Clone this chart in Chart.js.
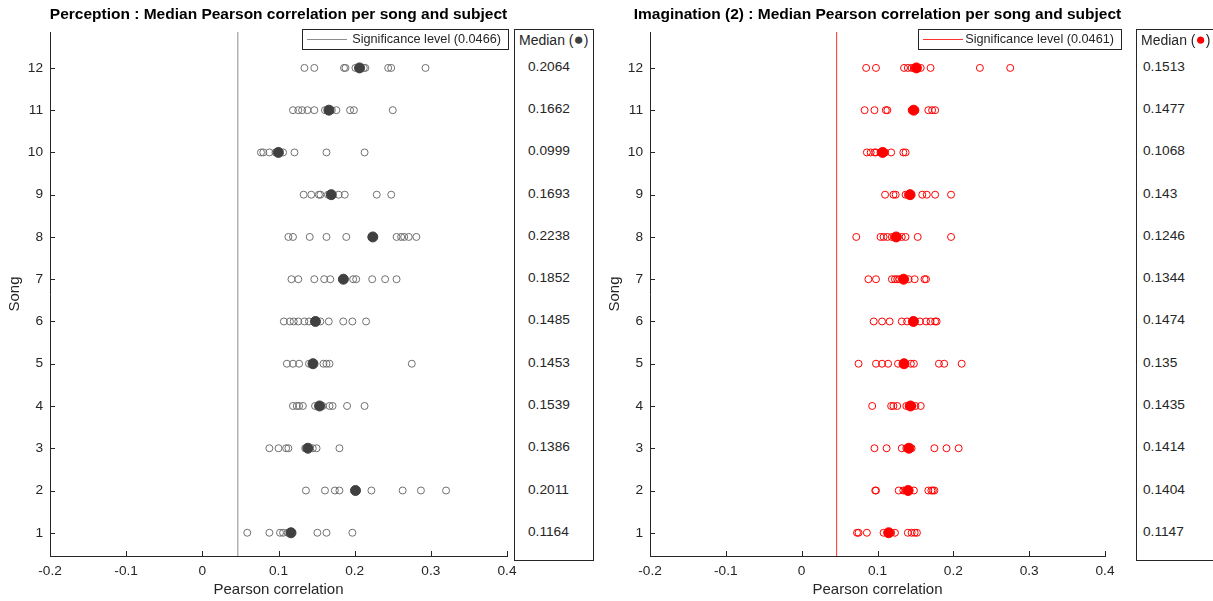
<!DOCTYPE html>
<html>
<head>
<meta charset="utf-8">
<script src="https://cdn.jsdelivr.net/npm/chart.js@4.4.1/dist/chart.umd.min.js"></script>
<style>
  body { margin: 0; background: #fff; width: 1213px; height: 601px; overflow: hidden; position: relative;
         font-family: 'Liberation Sans', Arial, sans-serif; color: #262626; }
  canvas { position: absolute; top: 0; }
  .title { position: absolute; top: 5px; font-weight: bold; font-size: 15.5px; white-space: nowrap;
           transform: translateX(-50%); color: #000; }
  .legend { position: absolute; top: 29px; height: 19px; border: 1px solid #262626; background: #fff; font-size: 12.7px; }
  .legend .sample { position: absolute; left: 4px; top: 9px; width: 40px; height: 0; border-top: 1px solid; }
  .legend .txt { position: absolute; right: 7px; top: 2px; white-space: nowrap; }
  .medbox { position: absolute; top: 29px; height: 530px; border: 1px solid #262626; background: #fff; font-size: 13.7px; }
  .medbox .head { position: absolute; left: 4px; top: 2px; white-space: nowrap; font-size: 14px; }
  .medbox .head span { font-size: 17px; line-height: 14px; }
  .medbox .val { position: absolute; white-space: nowrap; transform: translateY(-50%); }
</style>
</head>
<body>
<script>
// Songs and axis ticks
const songs = [1, 2, 3, 4, 5, 6, 7, 8, 9, 10, 11, 12];
const xTicks = [-0.2, -0.1, 0, 0.1, 0.2, 0.3, 0.4];
const yMin = 0.45;
const yMax = 12.85;

// Perception: correlation per subject, one list per song (song 1 first)
const perceptionValues = [
    [0.059, 0.088, 0.102, 0.106, 0.112, 0.151, 0.163, 0.197],
    [0.136, 0.161, 0.174, 0.180, 0.222, 0.263, 0.287, 0.320],
    [0.088, 0.100, 0.110, 0.113, 0.135, 0.145, 0.150, 0.180],
    [0.119, 0.124, 0.127, 0.132, 0.148, 0.158, 0.167, 0.171, 0.190, 0.213],
    [0.111, 0.119, 0.127, 0.140, 0.159, 0.163, 0.167, 0.275],
    [0.107, 0.115, 0.120, 0.126, 0.134, 0.140, 0.155, 0.166, 0.185, 0.197, 0.215],
    [0.117, 0.126, 0.147, 0.160, 0.168, 0.198, 0.202, 0.223, 0.240, 0.255],
    [0.113, 0.119, 0.141, 0.163, 0.189, 0.255, 0.261, 0.265, 0.271, 0.281],
    [0.133, 0.143, 0.153, 0.155, 0.165, 0.179, 0.187, 0.229, 0.248],
    [0.077, 0.080, 0.088, 0.096, 0.106, 0.121, 0.163, 0.213],
    [0.119, 0.126, 0.131, 0.138, 0.147, 0.161, 0.170, 0.176, 0.194, 0.199, 0.250],
    [0.134, 0.147, 0.186, 0.188, 0.201, 0.212, 0.214, 0.244, 0.248, 0.293]
];
const perceptionMedians = [0.1164, 0.2011, 0.1386, 0.1539, 0.1453, 0.1485, 0.1852, 0.2238, 0.1693, 0.0999, 0.1662, 0.2064];
const perceptionSignificance = 0.0466;

// Imagination (2)
const imaginationValues = [
    [0.073, 0.075, 0.086, 0.108, 0.118, 0.123, 0.140, 0.145, 0.149, 0.152],
    [0.097, 0.098, 0.128, 0.134, 0.137, 0.148, 0.167, 0.171, 0.173, 0.175],
    [0.096, 0.112, 0.132, 0.138, 0.145, 0.175, 0.191, 0.207],
    [0.093, 0.118, 0.121, 0.126, 0.138, 0.141, 0.146, 0.150, 0.157],
    [0.075, 0.098, 0.106, 0.114, 0.127, 0.144, 0.148, 0.181, 0.188, 0.211],
    [0.095, 0.106, 0.116, 0.132, 0.139, 0.156, 0.164, 0.170, 0.176, 0.178],
    [0.088, 0.098, 0.119, 0.123, 0.126, 0.129, 0.141, 0.149, 0.162, 0.164],
    [0.072, 0.104, 0.108, 0.113, 0.119, 0.127, 0.132, 0.137, 0.153, 0.197],
    [0.110, 0.121, 0.124, 0.137, 0.140, 0.159, 0.165, 0.176, 0.197],
    [0.086, 0.091, 0.096, 0.098, 0.104, 0.110, 0.118, 0.134, 0.137],
    [0.083, 0.096, 0.111, 0.113, 0.145, 0.150, 0.167, 0.172, 0.176],
    [0.085, 0.098, 0.135, 0.140, 0.145, 0.148, 0.157, 0.170, 0.235, 0.275]
];
const imaginationMedians = [0.1147, 0.1404, 0.1414, 0.1435, 0.135, 0.1474, 0.1344, 0.1246, 0.143, 0.1068, 0.1477, 0.1513];
const imaginationSignificance = 0.0461;

Chart.defaults.font.family = "'Liberation Sans', Arial, sans-serif";
Chart.defaults.color = '#262626';

// MATLAB style ticks pointing into the axes
const innerTicks = {
    id: 'innerTicks',
    afterDraw(chart) {
        const { ctx, chartArea: a, scales: { x, y } } = chart;
        ctx.save();
        ctx.strokeStyle = '#262626';
        ctx.lineWidth = 1;
        ctx.beginPath();
        xTicks.forEach(v => {
            const px = Math.round(x.getPixelForValue(v)) + 0.5;
            ctx.moveTo(px, a.bottom);
            ctx.lineTo(px, a.bottom - 5);
        });
        songs.forEach(v => {
            const py = Math.round(y.getPixelForValue(v)) + 0.5;
            ctx.moveTo(a.left, py);
            ctx.lineTo(a.left + 5, py);
        });
        ctx.stroke();
        ctx.restore();
    }
};

function addDiv(cls, parent, css, html) {
    const d = document.createElement('div');
    d.className = cls;
    Object.assign(d.style, css);
    if (html !== undefined) d.innerHTML = html;
    parent.appendChild(d);
    return d;
}

function makePanel(p) {
    const canvas = document.createElement('canvas');
    canvas.width = p.width;
    canvas.height = 601;
    canvas.style.left = p.left + 'px';
    document.body.appendChild(canvas);

    const points = [];
    p.values.forEach((row, i) => row.forEach(v => points.push({ x: v, y: songs[i] })));
    const medPoints = p.medians.map((m, i) => ({ x: m, y: songs[i] }));

    const chart = new Chart(canvas, {
        type: 'scatter',
        data: {
            datasets: [
                {
                    label: 'Median',
                    data: medPoints,
                    pointRadius: 5,
                    backgroundColor: p.fillColor,
                    borderColor: p.fillColor,
                    borderWidth: 1,
                    order: 0
                },
                {
                    label: 'Subjects',
                    data: points,
                    pointRadius: 3.5,
                    backgroundColor: 'rgba(0,0,0,0)',
                    borderColor: p.emptyColor,
                    borderWidth: 1,
                    order: 1
                },
                {
                    type: 'line',
                    label: 'Significance level',
                    data: [{ x: p.sig, y: yMin }, { x: p.sig, y: yMax }],
                    borderColor: p.lineColor,
                    borderWidth: 1,
                    pointRadius: 0,
                    order: 2
                }
            ]
        },
        options: {
            responsive: false,
            animation: false,
            events: [],
            layout: { padding: { left: 0, right: 23, top: 32, bottom: 0 } },
            plugins: {
                legend: { display: false },
                tooltip: { enabled: false }
            },
            scales: {
                x: {
                    type: 'linear',
                    min: -0.2,
                    max: 0.4,
                    afterBuildTicks: s => { s.ticks = xTicks.map(v => ({ value: v })); },
                    afterFit: s => { s.height = 45; },
                    grid: { display: false, drawTicks: false },
                    border: { display: true, color: '#262626', width: 1 },
                    ticks: {
                        font: { size: 13.7 },
                        padding: 7,
                        maxRotation: 0,
                        autoSkip: false,
                        callback: v => String(Math.round(v * 10) / 10)
                    },
                    title: {
                        display: true,
                        text: 'Pearson correlation',
                        font: { size: 15 },
                        padding: { top: 0, bottom: 2 }
                    }
                },
                y: {
                    type: 'linear',
                    min: yMin,
                    max: yMax,
                    afterBuildTicks: s => { s.ticks = songs.map(v => ({ value: v })); },
                    afterFit: s => { s.width = p.yWidth; },
                    grid: { display: false, drawTicks: false },
                    border: { display: true, color: '#262626', width: 1 },
                    ticks: {
                        font: { size: 13.7 },
                        padding: 7,
                        autoSkip: false,
                        callback: v => String(v)
                    },
                    title: {
                        display: true,
                        text: 'Song',
                        font: { size: 15 },
                        padding: { top: 6, bottom: 0 }
                    }
                }
            }
        },
        plugins: [innerTicks]
    });

    const a = chart.chartArea;
    addDiv('title', document.body, { left: (p.left + (a.left + a.right) / 2) + 'px' }, p.title);

    const leg = addDiv('legend', document.body, { left: p.legendLeft + 'px', width: p.legendWidth + 'px' });
    addDiv('sample', leg, { borderTopColor: p.lineColor });
    addDiv('txt', leg, {}, 'Significance level (' + p.sig + ')');

    const box = addDiv('medbox', document.body, { left: p.boxLeft + 'px', width: p.boxWidth + 'px' });
    addDiv('head', box, {}, 'Median (<span style="color:' + p.fillColor + '">&#9679;</span>)');
    p.medians.forEach((m, i) => {
        const py = chart.scales.y.getPixelForValue(songs[i]) - 2 - 30;
        addDiv('val', box, { left: p.valOffset + 'px', top: py + 'px' }, String(m));
    });
    return chart;
}

makePanel({
    left: 0, width: 530, yWidth: 50,
    title: 'Perception : Median Pearson correlation per song and subject',
    values: perceptionValues, medians: perceptionMedians, sig: perceptionSignificance,
    emptyColor: '#707070', fillColor: '#404040', lineColor: '#8c8c8c',
    legendLeft: 302, legendWidth: 205,
    boxLeft: 514, boxWidth: 78, valOffset: 13
});

makePanel({
    left: 600, width: 528, yWidth: 50,
    title: 'Imagination (2) : Median Pearson correlation per song and subject',
    values: imaginationValues, medians: imaginationMedians, sig: imaginationSignificance,
    emptyColor: '#ff0000', fillColor: '#ff0000', lineColor: '#ff3030',
    legendLeft: 918, legendWidth: 202,
    boxLeft: 1136, boxWidth: 100, valOffset: 6
});
</script>
</body>
</html>
